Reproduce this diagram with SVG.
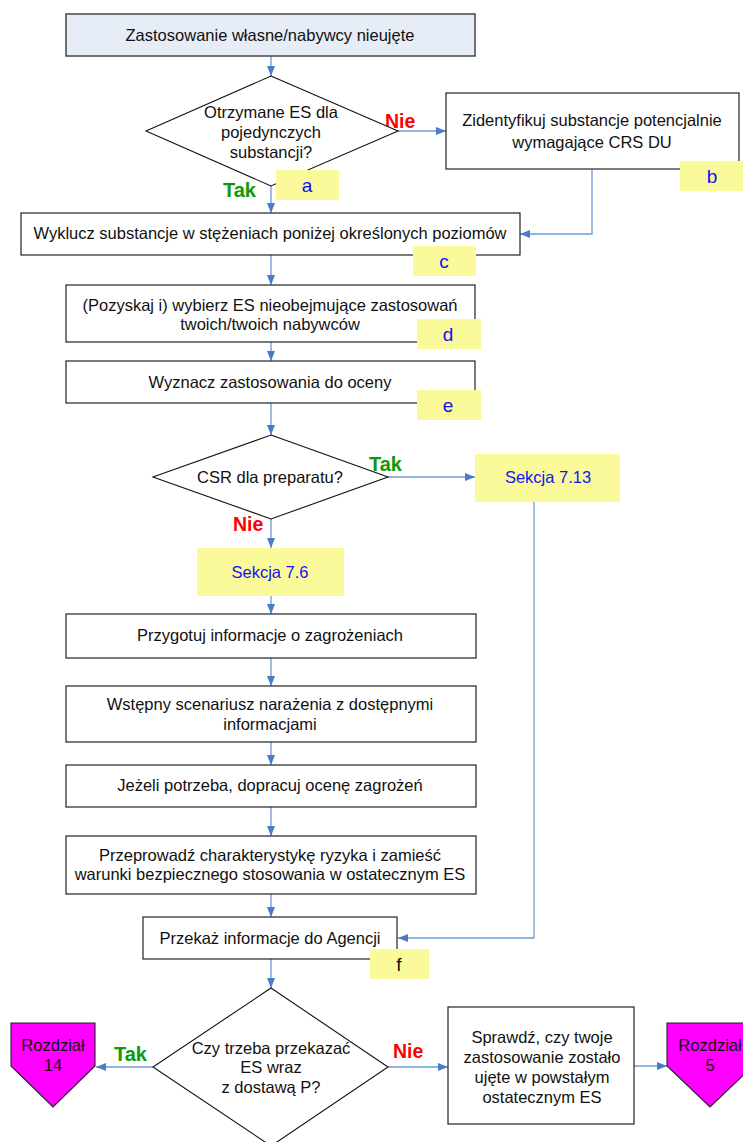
<svg xmlns="http://www.w3.org/2000/svg" width="743" height="1142" viewBox="0 0 743 1142">
  <defs>
    <marker id="arr" markerWidth="10" markerHeight="8" refX="10" refY="4" orient="auto" markerUnits="userSpaceOnUse">
      <path d="M0,0 L10,4 L0,8 Z" fill="#4A7BC4"/>
    </marker>
    <style>
      .box { fill: #fff; stroke: #222; stroke-width: 1.2; }
      .start { fill: #E7EDF6; stroke: #444; stroke-width: 1.5; }
      .dia { fill: #fff; stroke: #111; stroke-width: 1.1; }
      .tag { fill: #FAFA9A; stroke: none; }
      .chap { fill: #FF00FF; stroke: #222; stroke-width: 1.1; }
      .t { font-family: "Liberation Sans", Arial, sans-serif; font-size: 16.5px; fill: #111; text-anchor: middle; }
      .tl { font-family: "Liberation Sans", Arial, sans-serif; font-size: 19px; fill: #1010F0; text-anchor: middle; }
      .sec { font-family: "Liberation Sans", Arial, sans-serif; font-size: 16.5px; fill: #1414F0; text-anchor: middle; }
      .yes { font-family: "Liberation Sans", Arial, sans-serif; font-size: 20px; font-weight: bold; fill: #0A9A0A; }
      .no { font-family: "Liberation Sans", Arial, sans-serif; font-size: 19.5px; font-weight: bold; fill: #FF0000; }
      .c { fill: none; stroke: #6E9AD6; stroke-width: 1.3; marker-end: url(#arr); }
    </style>
  </defs>

  <!-- connectors -->
  <g id="connectors">
    <path class="c" d="M271,56 V76"/>
    <path class="c" d="M398,131 H446"/>
    <path class="c" d="M271,186 V213"/>
    <path class="c" d="M592,169 V234 H520"/>
    <path class="c" d="M271,255 V285"/>
    <path class="c" d="M271,342 V361"/>
    <path class="c" d="M271,403 V435"/>
    <path class="c" d="M388,477 H475"/>
    <path class="c" d="M271,519 V548"/>
    <path class="c" d="M534,502 V938 H398"/>
    <path class="c" d="M271,596 V614"/>
    <path class="c" d="M271,658 V686"/>
    <path class="c" d="M271,742 V765"/>
    <path class="c" d="M271,807 V836"/>
    <path class="c" d="M271,894 V917"/>
    <path class="c" d="M271,959 V988"/>
    <path class="c" d="M153,1067 H96"/>
    <path class="c" d="M388,1067 H448"/>
    <path class="c" d="M634,1066 H667"/>
  </g>

  <!-- labels on connectors -->
  <g id="edge-labels">
    <text class="no" x="385" y="128">Nie</text>
    <text class="yes" x="223" y="197">Tak</text>
    <text class="yes" x="369" y="471">Tak</text>
    <text class="no" x="233" y="531">Nie</text>
    <text class="yes" x="114" y="1061">Tak</text>
    <text class="no" x="393" y="1058">Nie</text>
  </g>

  <g id="n-start">
    <rect class="start" x="66" y="14" width="409" height="42"/>
    <text class="t" x="270" y="41">Zastosowanie własne/nabywcy nieujęte</text>
  </g>

  <g id="n-d1">
    <polygon class="dia" points="271,76 398,131 271,186 146,131"/>
    <text class="t" x="271" y="118">Otrzymane ES dla</text>
    <text class="t" x="271" y="138">pojedynczych</text>
    <text class="t" x="271" y="158">substancji?</text>
  </g>

  <g id="n-ident">
    <rect class="box" x="446" y="93" width="293" height="76"/>
    <text class="t" x="592" y="126">Zidentyfikuj substancje potencjalnie</text>
    <text class="t" x="592" y="148">wymagające CRS DU</text>
  </g>

  <g id="n-excl">
    <rect class="box" x="21" y="213" width="499" height="42"/>
    <text class="t" x="270" y="239">Wyklucz substancje w stężeniach poniżej określonych poziomów</text>
  </g>

  <g id="n-select">
    <rect class="box" x="66" y="285" width="409" height="57"/>
    <text class="t" x="270" y="311">(Pozyskaj i) wybierz ES nieobejmujące zastosowań</text>
    <text class="t" x="270" y="330">twoich/twoich nabywców</text>
  </g>

  <g id="n-uses">
    <rect class="box" x="66" y="361" width="409" height="42"/>
    <text class="t" x="270" y="388">Wyznacz zastosowania do oceny</text>
  </g>

  <g id="n-d2">
    <polygon class="dia" points="271,435 388,477 271,519 153,477"/>
    <text class="t" x="270" y="483">CSR dla preparatu?</text>
  </g>

  <g id="n-s713">
    <rect class="tag" x="475" y="454" width="145" height="48"/>
    <text class="sec" x="548" y="483">Sekcja 7.13</text>
  </g>

  <g id="n-s76">
    <rect class="tag" x="197" y="548" width="147" height="48"/>
    <text class="sec" x="270" y="578">Sekcja 7.6</text>
  </g>

  <g id="n-hazard">
    <rect class="box" x="66" y="614" width="410" height="44"/>
    <text class="t" x="270" y="641">Przygotuj informacje o zagrożeniach</text>
  </g>

  <g id="n-scen">
    <rect class="box" x="66" y="686" width="410" height="56"/>
    <text class="t" x="270" y="710">Wstępny scenariusz narażenia z dostępnymi</text>
    <text class="t" x="270" y="730">informacjami</text>
  </g>

  <g id="n-refine">
    <rect class="box" x="66" y="765" width="410" height="42"/>
    <text class="t" x="270" y="791">Jeżeli potrzeba, dopracuj ocenę zagrożeń</text>
  </g>

  <g id="n-risk">
    <rect class="box" x="66" y="836" width="410" height="58"/>
    <text class="t" x="270" y="861">Przeprowadź charakterystykę ryzyka i zamieść</text>
    <text class="t" x="270" y="880">warunki bezpiecznego stosowania w ostatecznym ES</text>
  </g>

  <g id="n-agency">
    <rect class="box" x="143" y="917" width="254" height="42"/>
    <text class="t" x="270" y="944">Przekaż informacje do Agencji</text>
  </g>

  <g id="n-d3">
    <polygon class="dia" points="271,988 388,1067 271,1146 153,1067"/>
    <text class="t" x="271" y="1054">Czy trzeba przekazać</text>
    <text class="t" x="271" y="1073">ES wraz</text>
    <text class="t" x="271" y="1093">z dostawą P?</text>
  </g>

  <g id="n-check">
    <rect class="box" x="448" y="1007" width="186" height="117"/>
    <text class="t" x="542" y="1043">Sprawdź, czy twoje</text>
    <text class="t" x="542" y="1063">zastosowanie zostało</text>
    <text class="t" x="542" y="1083">ujęte w powstałym</text>
    <text class="t" x="542" y="1103">ostatecznym ES</text>
  </g>

  <g id="n-ch14">
    <polygon class="chap" points="11,1023 95,1023 95,1066 53,1107 11,1066"/>
    <text class="t" x="53" y="1051">Rozdział</text>
    <text class="t" x="53" y="1071">14</text>
  </g>

  <g id="n-ch5">
    <polygon class="chap" points="667,1023 753,1023 753,1066 710,1107 667,1066"/>
    <text class="t" x="710" y="1051">Rozdział</text>
    <text class="t" x="710" y="1071">5</text>
  </g>

  <!-- section tags a–f -->
  <g id="tag-a"><rect class="tag" x="276" y="170" width="63" height="30"/><text class="tl" x="307" y="192">a</text></g>
  <g id="tag-b"><rect class="tag" x="680" y="161" width="63" height="30"/><text class="tl" x="712" y="183">b</text></g>
  <g id="tag-c"><rect class="tag" x="413" y="246" width="63" height="30"/><text class="tl" x="444" y="268">c</text></g>
  <g id="tag-d"><rect class="tag" x="417" y="319" width="64" height="30"/><text class="tl" x="448" y="341">d</text></g>
  <g id="tag-e"><rect class="tag" x="417" y="390" width="64" height="30"/><text class="tl" x="448" y="412">e</text></g>
  <g id="tag-f"><rect class="tag" x="370" y="949" width="59" height="30"/><text class="tl" x="399" y="971" style="fill:#111">f</text></g>
</svg>
